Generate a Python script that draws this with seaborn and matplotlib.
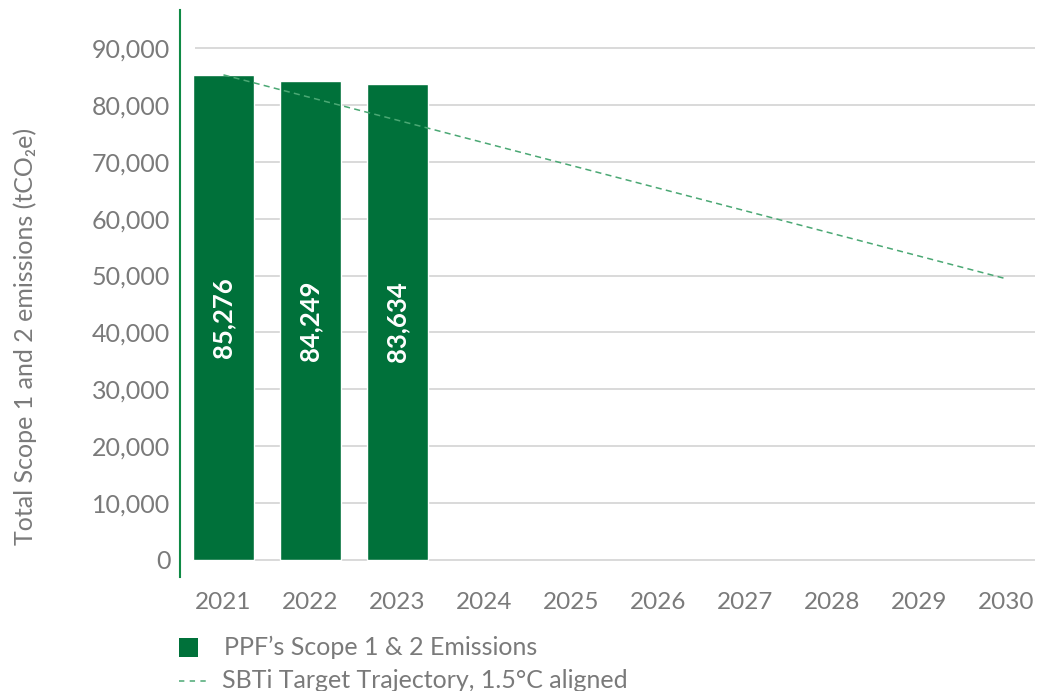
import matplotlib
matplotlib.use("Agg")
import matplotlib.pyplot as plt
import seaborn as sns
import pandas as pd
from matplotlib.lines import Line2D
from matplotlib.patches import Rectangle

# ---- data ----
all_years = ["2021", "2022", "2023", "2024", "2025", "2026", "2027", "2028", "2029", "2030"]
emission_years = ["2021", "2022", "2023"]
emission_values = [85276, 84249, 83634]
trajectory_years = ["2021", "2030"]
trajectory_values = [85276, 49460]
y_ticks = [0, 10000, 20000, 30000, 40000, 50000, 60000, 70000, 80000, 90000]
legend_labels = ["PPF\u2019s Scope 1 & 2 Emissions", "SBTi Target Trajectory, 1.5\u00b0C aligned"]

bar_color = "#00713A"
line_color = "#4BA874"
text_gray = "#7A7A7A"
grid_gray = "#D9D9D9"

sns.set_theme(style="white")
plt.rcParams["font.family"] = ["Lato", "DejaVu Sans"]

W, H = 1039, 691
fig = plt.figure(figsize=(W / 100, H / 100), dpi=100)
# axes in pixel coordinates: left 180, right 1039, top 10, bottom 577
ax = fig.add_axes([180 / W, 1 - 577 / H, (1039 - 180) / W, (577 - 10) / H])

df = pd.DataFrame({"year": emission_years, "value": emission_values})
sns.barplot(data=df, x="year", y="value", order=all_years, color=bar_color,
            saturation=1, width=0.70, ax=ax, zorder=3)

# trajectory line
traj_x = [all_years.index(y) for y in trajectory_years]
sns.lineplot(x=traj_x, y=trajectory_values, ax=ax, color=line_color,
             linewidth=1.1, linestyle=(0, (4, 2.8)), zorder=4)

ax.set_xlim(-0.5, 9.384)
ax.set_ylim(-2990, 96680)

# gridlines
ax.hlines(y_ticks, -0.327, 9.34, colors=grid_gray, linewidth=1.4, zorder=1)

# bar labels
for yr, v in zip(emission_years, emission_values):
    ax.text(all_years.index(yr), v / 2, f"{v:,}", rotation=90, color="white",
            fontsize=18.5, fontweight="bold", ha="center", va="center", zorder=5)

ax.set_yticks(y_ticks)
ax.set_yticklabels([f"{t:,}" for t in y_ticks])
ax.tick_params(axis="y", length=0, pad=7, labelsize=18, labelcolor=text_gray)
ax.tick_params(axis="x", length=0, pad=11, labelsize=17.5, labelcolor=text_gray)
ax.set_xlabel("")
ax.set_ylabel("")

for s in ["top", "right", "bottom"]:
    ax.spines[s].set_visible(False)
ax.spines["left"].set_color("#0F8A45")
ax.spines["left"].set_linewidth(1.5)

fig.text(25 / W, 1 - 336 / H, "Total Scope 1 and 2 emissions (tCO\u2082e)",
         rotation=90, color=text_gray, fontsize=18, ha="center", va="center")

# legend (drawn in figure pixel coordinates)
def fx(px):
    return px / W

def fy(py):
    return 1 - py / H

fig.patches.append(Rectangle((fx(179), fy(657)), 19 / W, 19 / H, transform=fig.transFigure,
                             facecolor=bar_color, edgecolor="none"))
fig.lines.append(Line2D([fx(179), fx(208)], [fy(681), fy(681)], transform=fig.transFigure,
                        color=line_color, linewidth=1.1, linestyle=(0, (3.5, 3.5))))
fig.text(fx(224), fy(647), legend_labels[0], color=text_gray, fontsize=18, ha="left", va="center")
fig.text(fx(222), fy(680), legend_labels[1], color=text_gray, fontsize=18, ha="left", va="center")

fig.savefig("out.png", dpi=100)
